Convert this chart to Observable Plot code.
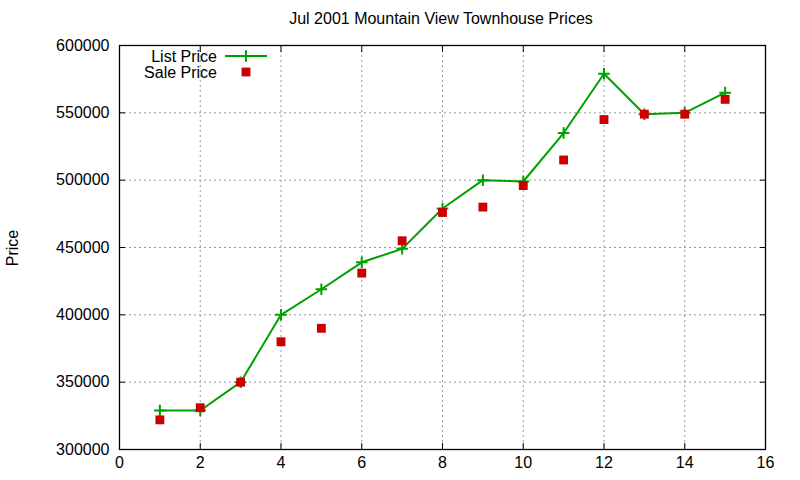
<!DOCTYPE html>
<html>
<head>
<meta charset="utf-8">
<script src="https://cdn.jsdelivr.net/npm/d3@7"></script>
<script src="https://cdn.jsdelivr.net/npm/@observablehq/plot@0.6"></script>
<style>
  body { margin: 0; background: #fff; }
  #wrap { position: relative; width: 800px; height: 480px; font-family: "Liberation Sans", Arial, sans-serif; }
  #title { position: absolute; left: 0; top: 10px; width: 882px; text-align: center; font-size: 16px; color: #000; }
  #ylab { position: absolute; left: 13px; top: 248px; font-size: 16px; transform: translate(-50%, -50%) rotate(-90deg); }
</style>
</head>
<body>
<div id="wrap">
  <div id="chart"></div>
  <div id="title">Jul 2001 Mountain View Townhouse Prices</div>
  <div id="ylab">Price</div>
</div>
<script>
const months = [1,2,3,4,5,6,7,8,9,10,11,12,13,14,15];
const listPrice = [329000,329000,350000,400000,419000,439000,449000,479000,500000,499000,535000,579000,549000,550000,565000];
const salePrice = [322000,331000,350000,380000,390000,431000,455000,476000,480000,496000,515000,545000,549000,549000,560000];
const xTicks = [0,2,4,6,8,10,12,14,16];
const yTicks = [300000,350000,400000,450000,500000,550000,600000];
const seriesNames = ["List Price", "Sale Price"];

const listData = months.map((m, i) => ({x: m, y: listPrice[i]}));
const saleData = months.map((m, i) => ({x: m, y: salePrice[i]}));

const green = "#00a000";
const red = "#cc0000";
const plusR = 3.8;
const squareR = 5;

const chart = Plot.plot({
  width: 800,
  height: 480,
  marginLeft: 119,
  marginRight: 35,
  marginTop: 45,
  marginBottom: 31,
  style: {fontFamily: "Liberation Sans, Arial, sans-serif", fontSize: "16px", color: "#000", background: "#fff"},
  x: {domain: [0, 16], ticks: xTicks, label: null},
  y: {domain: [300000, 600000], ticks: yTicks, label: null},
  marks: [
    Plot.gridX(xTicks.slice(1, -1), {stroke: "#999", strokeOpacity: 1, strokeDasharray: "2,3"}),
    Plot.gridY(yTicks.slice(1, -1), {stroke: "#999", strokeOpacity: 1, strokeDasharray: "2,3"}),
    Plot.axisX(xTicks, {anchor: "bottom", tickSize: -6, tickPadding: 13, tickFormat: d => String(d), stroke: "#000"}),
    Plot.axisX(xTicks, {anchor: "top", tickSize: -6, tickFormat: () => "", stroke: "#000"}),
    Plot.axisY(yTicks, {anchor: "left", tickSize: -6, tickPadding: 16, tickFormat: d => String(d), stroke: "#000"}),
    Plot.axisY(yTicks, {anchor: "right", tickSize: -6, tickFormat: () => "", stroke: "#000"}),
    Plot.frame({stroke: "#000", strokeWidth: 1.3}),
    Plot.line(listData, {x: "x", y: "y", stroke: green, strokeWidth: 2}),
    Plot.dot(listData, {x: "x", y: "y", symbol: "plus", r: plusR, stroke: green, strokeWidth: 2}),
    Plot.dot(saleData, {x: "x", y: "y", symbol: "square", r: squareR, fill: red, stroke: "none"})
  ]
});
document.getElementById("chart").appendChild(chart);

// legend inside the plot (top-left), gnuplot style
const svg = d3.select(chart);
const leg = svg.append("g").attr("font-family", "Liberation Sans, Arial, sans-serif").attr("font-size", 16);
const legRows = [{name: seriesNames[0], y: 56}, {name: seriesNames[1], y: 72}];
leg.selectAll("text").data(legRows).join("text")
  .attr("x", 217).attr("y", d => d.y).attr("dy", "0.35em").attr("text-anchor", "end").text(d => d.name);
leg.append("line").attr("x1", 225).attr("x2", 267).attr("y1", 56).attr("y2", 56).attr("stroke", green).attr("stroke-width", 2);
leg.append("path").attr("d", d3.symbol(d3.symbolPlus, plusR * plusR * Math.PI)()).attr("transform", "translate(246,56)").attr("stroke", green).attr("stroke-width", 2).attr("fill", "none");
leg.append("path").attr("d", d3.symbol(d3.symbolSquare, squareR * squareR * Math.PI)()).attr("transform", "translate(246,72)").attr("fill", red);
</script>
</body>
</html>
